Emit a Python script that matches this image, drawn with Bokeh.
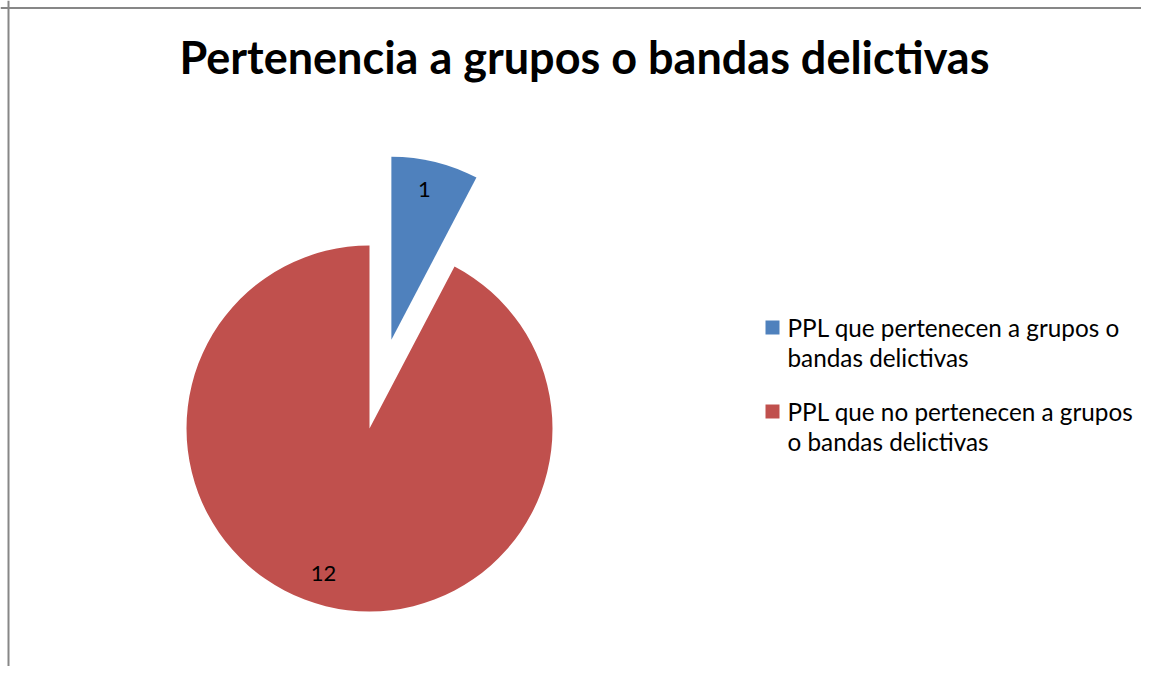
import math
from bokeh.plotting import figure
from bokeh.models import Range1d, Span
from bokeh.core.properties import value
from bokeh.embed import file_html
from bokeh.resources import INLINE

title = "Pertenencia a grupos o bandas delictivas"
categories = ["PPL que pertenecen a grupos o bandas delictivas",
              "PPL que no pertenecen a grupos o bandas delictivas"]
values = [1, 12]
legend_lines = [["PPL que pertenecen a grupos o", "bandas delictivas"],
                ["PPL que no pertenecen a grupos", "o bandas delictivas"]]
colors = ["#4F81BD", "#C0504D"]

W, H = 1141, 666

p = figure(width=W, height=H, output_backend="svg", toolbar_location=None,
           x_range=Range1d(0, W), y_range=Range1d(-H, 0),
           min_border=0, outline_line_color=None)
p.axis.visible = False
p.grid.visible = False
p.background_fill_color = "white"
p.border_fill_color = "white"

# chart border (top and left visible)
p.add_layout(Span(location=-7.5, dimension="width", line_color="#878787", line_width=2))
p.add_layout(Span(location=8, dimension="height", line_color="#878787", line_width=2))

# title
p.text(x=[584], y=[-56], text=[title], text_font=value("Lato"), text_font_style="bold",
       text_font_size="45px", text_align="center", text_baseline="alphabetic", text_color="black")

# pie
cx, cy, R = 369, -428, 183
explode = [91.5, 0]
label_dx = [-3, -10]
label_dy = [4, 1]
total = sum(values)
cum = 0.0
for i, v in enumerate(values):
    a0 = math.pi / 2 - 2 * math.pi * (cum + v) / total  # clockwise from 12 o'clock
    a1 = math.pi / 2 - 2 * math.pi * cum / total
    mid = (a0 + a1) / 2
    ex, ey = cx + explode[i] * math.cos(mid), cy + explode[i] * math.sin(mid)
    p.wedge(x=[ex], y=[ey], radius=R, start_angle=a0, end_angle=a1, direction="anticlock",
            fill_color=colors[i], line_color=None)
    lr = 0.82 * R
    p.text(x=[ex + lr * math.cos(mid) + label_dx[i]], y=[ey + lr * math.sin(mid) + label_dy[i]],
           text=[str(v)], text_font=value("Lato"), text_font_size="22px", text_align="center",
           text_baseline="middle", text_color="black")
    cum += v

# legend
lx, ly0, gap, lh = 765, -327, 84, 30
for i, lines in enumerate(legend_lines):
    sy = ly0 - i * gap
    p.rect(x=[lx + 7], y=[sy], width=14, height=14, fill_color=colors[i], line_color=None)
    for j, t in enumerate(lines):
        p.text(x=[787], y=[sy + 0.5 - j * lh], text=[t], text_font=value("Lato"),
               text_font_size="24.3px", text_align="left", text_baseline="alphabetic",
               text_color="black")

open("out.html", "w").write(file_html(p, INLINE))
